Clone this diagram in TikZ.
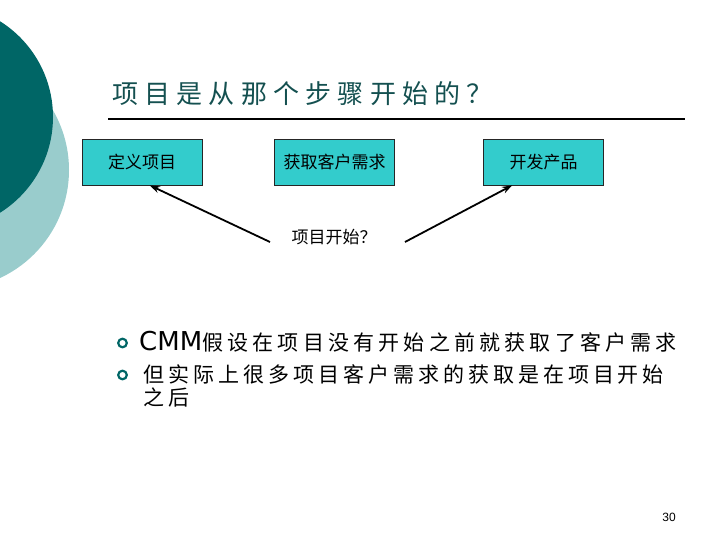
\documentclass[tikz,border=0pt]{standalone}
\usepackage{fontspec}
\setmainfont{Noto Sans CJK SC}
\newfontfamily\latinf{DejaVu Sans}
\newfontfamily\numf{Liberation Sans}
\usetikzlibrary{arrows.meta,calc}
\definecolor{darkteal}{RGB}{0,102,102}
\definecolor{lightteal}{RGB}{153,204,204}
\definecolor{boxfill}{RGB}{51,204,204}
\definecolor{titlec}{RGB}{20,80,80}
\tikzset{
  stepbox/.style={draw=black!85, line width=0.8pt, fill=boxfill, minimum width=120pt, minimum height=46pt, inner sep=0pt, font=\fontsize{17}{20}\selectfont},
  arr/.style={line width=1.8pt, -{Stealth[length=10pt,width=7pt]}},
  bul/.style={circle, draw=darkteal, line width=2.2pt, minimum size=8.6pt, inner sep=0pt},
  btext/.style={anchor=base west, inner sep=0pt, font=\fontsize{21}{25}\selectfont},
}
\begin{document}
\begin{tikzpicture}[x=1pt,y=-1pt]
\useasboundingbox (0,0) rectangle (720,540);
\begin{scope}
\clip (0,0) rectangle (720,540);
\fill[lightteal] (-50,170) circle[radius=119pt];
\fill[darkteal] (-60,117) circle[radius=113pt];
\end{scope}

\node[anchor=base west, inner sep=0pt, text=titlec, font=\fontsize{26}{30}\selectfont\addfontfeature{LetterSpace=24}] (title) at (112,103.5) {项目是从那个步骤开始的？};
\draw[line width=2pt] (108,119) -- (685,119);

\node[stepbox] (b1) at (142,162) {定义项目};
\node[stepbox] (b2) at (334.5,162) {获取客户需求};
\node[stepbox] (b3) at (543.5,162) {开发产品};

\node[inner sep=0pt, font=\fontsize{17}{20}\selectfont] (lbl) at (334,237) {项目开始？};
\coordinate (s1) at (270,242);
\coordinate (s2) at (405,242);
\draw[arr] (s1) -- ($(b1.south west)!0.565!(b1.south east)$);
\draw[arr] (s2) -- ($(b3.south west)!0.24!(b3.south east)$);

\node[bul] (u1) at (122.5,343) {};
\node[bul] (u2) at (122.5,375) {};
\node[btext] (t1) at (139,350) {{\fontsize{26}{30}\latinf CMM}\addfontfeature{LetterSpace=20}假设在项目没有开始之前就获取了客户需求};
\node[btext] (t2) at (143,382) {\addfontfeature{LetterSpace=19}但实际上很多项目客户需求的获取是在项目开始};
\node[btext] (t3) at (143,405) {\addfontfeature{LetterSpace=19}之后};

\node[font=\fontsize{12}{14}\numf, inner sep=0pt] (pg) at (669,517) {30};
\end{tikzpicture}
\end{document}
